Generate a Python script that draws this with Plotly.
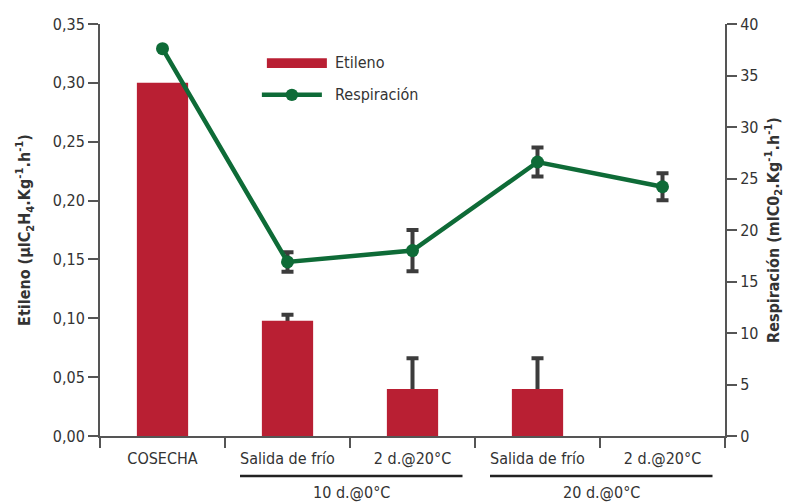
import plotly.graph_objects as go

# --- data ---------------------------------------------------------------
categories = ["COSECHA", "Salida de frío", "2 d.@20°C", "Salida de frío", "2 d.@20°C"]
groups = ["10 d.@0°C", "20 d.@0°C"]
etileno = [0.30, 0.098, 0.040, 0.040, 0.0]
etileno_err = [0.0, 0.005, 0.026, 0.026, 0.0]
respiracion = [37.6, 16.9, 18.0, 26.6, 24.2]
respiracion_err = [0.0, 0.95, 2.0, 1.4, 1.3]
left_ticks = [0, 0.05, 0.10, 0.15, 0.20, 0.25, 0.30, 0.35]
right_ticks = [0, 5, 10, 15, 20, 25, 30, 35, 40]

RED = "#B91F33"
GREEN = "#0E6B37"
ERR = "#3C3C3C"
AXIS = "#555555"
TXT = "#333333"
FONT = "DejaVu Sans Condensed, Roboto, sans-serif"
FS = 16
TFS = 16

xpos = list(range(len(categories)))

# only the points that carry an error get a whisker
eti_idx = [i for i, e in enumerate(etileno_err) if e > 0]
res_idx = [i for i, e in enumerate(respiracion_err) if e > 0]

fig = go.Figure()

# ethylene whiskers sit on the base axis so the bars (on an overlay) cover their lower half
fig.add_trace(go.Scatter(
    x=[xpos[i] for i in eti_idx], y=[etileno[i] for i in eti_idx],
    mode="markers", marker=dict(size=1, opacity=0),
    error_y=dict(type="data", array=[etileno_err[i] for i in eti_idx], visible=True,
                 color=ERR, thickness=4, width=6),
    showlegend=False, hoverinfo="skip",
))

fig.add_trace(go.Bar(
    x=xpos, y=etileno, name="Etileno", marker=dict(color=RED, line=dict(width=0)),
    width=0.41, yaxis="y2", showlegend=False,
))

# respiration whiskers, then the line with markers on top
fig.add_trace(go.Scatter(
    x=[xpos[i] for i in res_idx], y=[respiracion[i] for i in res_idx],
    yaxis="y3", mode="markers", marker=dict(size=1, opacity=0),
    error_y=dict(type="data", array=[respiracion_err[i] for i in res_idx], visible=True,
                 color=ERR, thickness=4, width=6),
    showlegend=False, hoverinfo="skip",
))
fig.add_trace(go.Scatter(
    x=xpos, y=respiracion, name="Respiración", yaxis="y3",
    mode="lines+markers",
    line=dict(color=GREEN, width=4.5),
    marker=dict(color=GREEN, size=13),
    showlegend=False,
))

fig.update_layout(
    width=798, height=502,
    margin=dict(l=100, r=73, t=24, b=66),
    paper_bgcolor="white", plot_bgcolor="white",
    separators=",.",
    font=dict(family=FONT, size=FS, color=TXT),
    xaxis=dict(
        range=[-0.5, 4.5], tickvals=xpos, ticktext=categories,
        ticks="", showline=True, linecolor=AXIS, linewidth=2,
        showgrid=False, zeroline=False, ticklabelstandoff=7,
        tickfont=dict(size=FS, color=TXT),
        minor=dict(tickvals=[-0.5, 0.5, 1.5, 2.5, 3.5, 4.5],
                   ticks="outside", ticklen=10, tickwidth=2, tickcolor=AXIS),
    ),
    yaxis=dict(
        range=[0, 0.35], tickvals=left_ticks, tickformat=".2f",
        ticks="outside", ticklen=10, tickwidth=2, tickcolor=AXIS,
        showline=True, linecolor=AXIS, linewidth=2,
        showgrid=False, zeroline=False,
        tickfont=dict(size=FS, color=TXT),
        title=dict(text="<b>Etileno (µlC<sub>2</sub>H<sub>4</sub>.Kg<sup>-1</sup>.h<sup>-1</sup>)</b>",
                   font=dict(size=TFS, color=TXT), standoff=18),
    ),
    yaxis2=dict(range=[0, 0.35], overlaying="y", visible=False),
    yaxis3=dict(
        range=[0, 40], tickvals=right_ticks, overlaying="y", side="right",
        ticks="outside", ticklen=10, tickwidth=2, tickcolor=AXIS,
        showline=True, linecolor=AXIS, linewidth=2,
        showgrid=False, zeroline=False,
        tickfont=dict(size=FS, color=TXT),
        title=dict(text="<b>Respiración (mlC0<sub>2</sub>.Kg<sup>-1</sup>.h<sup>-1</sup>)</b>",
                   font=dict(size=TFS, color=TXT), standoff=10),
    ),
)

# group brackets under the category labels
for g, (x0, x1) in zip(groups, [(0.62, 2.4), (2.62, 4.4)]):
    fig.add_shape(type="line", xref="x", yref="paper", x0=x0, x1=x1,
                  y0=-0.097, y1=-0.097, line=dict(color="#222222", width=2.5))
    fig.add_annotation(xref="x", yref="paper", x=(x0 + x1) / 2, y=-0.138,
                       text=g, showarrow=False, yanchor="middle",
                       font=dict(size=FS, color=TXT))

# legend
fig.add_shape(type="rect", xref="paper", yref="paper",
              x0=0.267, x1=0.363, y0=0.893, y1=0.917,
              fillcolor=RED, line=dict(width=0))
fig.add_annotation(xref="paper", yref="paper", x=0.373, y=0.906, text="Etileno",
                   showarrow=False, xanchor="left", yanchor="middle",
                   font=dict(size=FS, color=TXT))
fig.add_shape(type="line", xref="paper", yref="paper",
              x0=0.259, x1=0.355, y0=0.828, y1=0.828,
              line=dict(color=GREEN, width=4.5))
fig.add_shape(type="circle", xref="paper", yref="paper",
              x0=0.297, x1=0.317, y0=0.813, y1=0.843,
              fillcolor=GREEN, line=dict(width=0))
fig.add_annotation(xref="paper", yref="paper", x=0.373, y=0.828, text="Respiración",
                   showarrow=False, xanchor="left", yanchor="middle",
                   font=dict(size=FS, color=TXT))

fig.write_html("out.html")
